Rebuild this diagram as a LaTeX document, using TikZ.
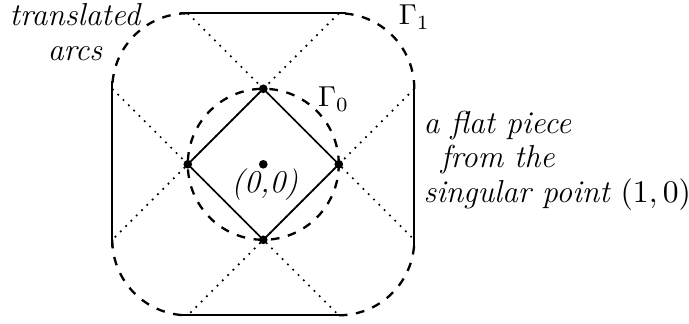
\documentclass[tikz,border=0pt]{standalone}
\usetikzlibrary{positioning}
\begin{document}
\begin{tikzpicture}[
    x=0.92cm, y=0.92cm,
    flat/.style={thick},
    tarc/.style={thick, dashed},
    ray/.style={dotted, semithick},
    edge/.style={semithick},
    vertex/.style={circle, fill, inner sep=0pt, minimum size=3pt},
    lbl/.style={font=\fontsize{11}{12}\selectfont\itshape, align=center}
  ]
  \useasboundingbox (-3.487,-2.102) rectangle (5.638,2.176);

  % corners of the square
  \coordinate (pn) at (0,1);
  \coordinate (pe) at (1,0);
  \coordinate (ps) at (0,-1);
  \coordinate (pw) at (-1,0);

  % dotted rays through the corners
  \draw[ray] (-1,2) -- (2,-1);
  \draw[ray] (1,2) -- (-2,-1);
  \draw[ray] (-2,1) -- (1,-2);
  \draw[ray] (2,1) -- (-1,-2);

  % Gamma_0 and the square
  \draw[tarc] (0,0) circle (1);
  \draw[edge] (pn) -- (pe) -- (ps) -- (pw) -- cycle;

  % Gamma_1: translated arcs
  \draw[tarc] (-1,2) arc (90:180:1);
  \draw[tarc] (2,1) arc (0:90:1);
  \draw[tarc] (1,-2) arc (270:360:1);
  \draw[tarc] (-2,-1) arc (180:270:1);

  % flat pieces
  \draw[flat] (-1.1,2) -- (1.1,2);
  \draw[flat] (-1.1,-2) -- (1.1,-2);
  \draw[flat] (-2,-1.1) -- (-2,1.1);
  \draw[flat] (2,-1.1) -- (2,1.1);

  % points
  \node[vertex] (vo) at (0,0) {};
  \node[vertex] (vn) at (pn) {};
  \node[vertex] (ve) at (pe) {};
  \node[vertex] (vs) at (ps) {};
  \node[vertex] (vw) at (pw) {};

  % labels
  \node[anchor=base] (g1) at (2.0,1.845) {$\Gamma_1$};
  \node[anchor=base] (g0) at (0.93,0.759) {$\Gamma_0$};
  \node[lbl, anchor=base] (orig) at (0.02,-0.38) {(0,0)};
  \node[lbl] (tarcs) at (-2.494,1.75) {translated\\arcs};
  \node[lbl, align=left, anchor=west, inner sep=0pt] (fpiece) at (2.115,0.05)
    {a flat piece\\\hspace*{6pt}from the\\singular point \upshape$(1,0)$};
\end{tikzpicture}
\end{document}
